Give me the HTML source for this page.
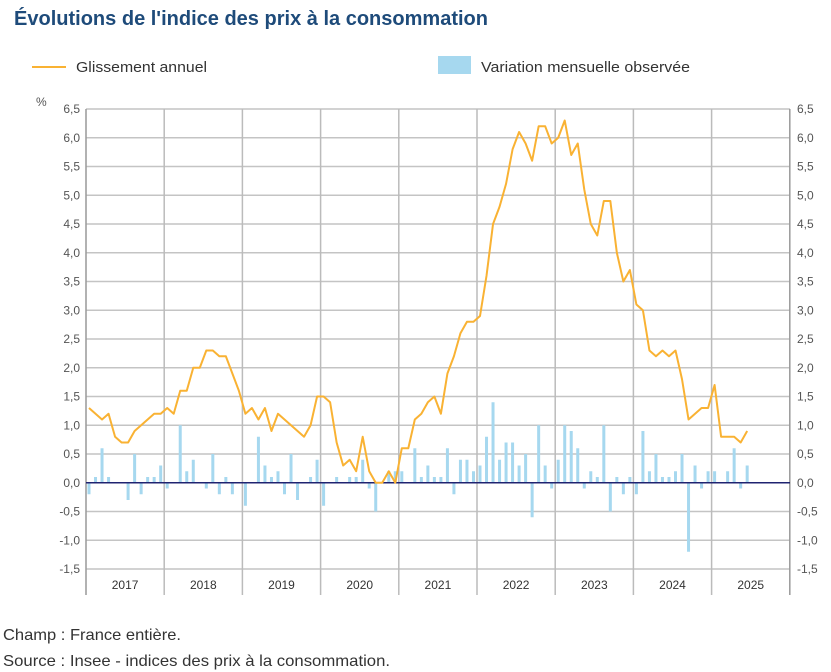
<!DOCTYPE html>
<html><head><meta charset="utf-8"><style>
body{margin:0;background:#fff;font-family:"Liberation Sans",sans-serif;}
svg{display:block}
</style></head><body>
<svg id="c" width="831" height="672" xmlns="http://www.w3.org/2000/svg">
<text x="14" y="25" font-size="20" font-weight="bold" fill="#1e4b7a" textLength="474" lengthAdjust="spacingAndGlyphs">Évolutions de l'indice des prix à la consommation</text>
<g>
<line x1="32" y1="67" x2="66" y2="67" stroke="#f9b233" stroke-width="2"/>
<text x="76" y="72" font-size="15" fill="#333" textLength="131" lengthAdjust="spacingAndGlyphs">Glissement annuel</text>
<rect x="438" y="56" width="33" height="18" fill="#a6d8ef"/>
<text x="481" y="72" font-size="15" fill="#333" textLength="209" lengthAdjust="spacingAndGlyphs">Variation mensuelle observée</text>
</g>
<text x="36" y="106" font-size="12" fill="#555">%</text>
<g id="grid"></g><g id="bars"></g><g id="line"></g><g id="axes"></g>
<text x="3" y="640" font-size="16" fill="#333" textLength="178" lengthAdjust="spacingAndGlyphs">Champ : France entière.</text>
<text x="3" y="666" font-size="16" fill="#333" textLength="387" lengthAdjust="spacingAndGlyphs">Source : Insee - indices des prix à la consommation.</text>
</svg>
<script>
const years=["2017","2018","2019","2020","2021","2022","2023","2024","2025"];
const yTicks=[6.5,6,5.5,5,4.5,4,3.5,3,2.5,2,1.5,1,0.5,0,-0.5,-1,-1.5];
const annual=[1.3,1.2,1.1,1.2,0.8,0.7,0.7,0.9,1.0,1.1,1.2,1.2,
1.3,1.2,1.6,1.6,2.0,2.0,2.3,2.3,2.2,2.2,1.9,1.6,
1.2,1.3,1.1,1.3,0.9,1.2,1.1,1.0,0.9,0.8,1.0,1.5,
1.5,1.4,0.7,0.3,0.4,0.2,0.8,0.2,0.0,0.0,0.2,0.0,
0.6,0.6,1.1,1.2,1.4,1.5,1.2,1.9,2.2,2.6,2.8,2.8,
2.9,3.6,4.5,4.8,5.2,5.8,6.1,5.9,5.6,6.2,6.2,5.9,
6.0,6.3,5.7,5.9,5.1,4.5,4.3,4.9,4.9,4.0,3.5,3.7,
3.1,3.0,2.3,2.2,2.3,2.2,2.3,1.8,1.1,1.2,1.3,1.3,
1.7,0.8,0.8,0.8,0.7,0.9];
const monthly=[-0.2,0.1,0.6,0.1,0,0,-0.3,0.5,-0.2,0.1,0.1,0.3,
-0.1,0,1.0,0.2,0.4,0,-0.1,0.5,-0.2,0.1,-0.2,0,
-0.4,0,0.8,0.3,0.1,0.2,-0.2,0.5,-0.3,0,0.1,0.4,
-0.4,0,0.1,0,0.1,0.1,0.4,-0.1,-0.5,0,0.2,0.2,
0.2,0,0.6,0.1,0.3,0.1,0.1,0.6,-0.2,0.4,0.4,0.2,
0.3,0.8,1.4,0.4,0.7,0.7,0.3,0.5,-0.6,1.0,0.3,-0.1,
0.4,1.0,0.9,0.6,-0.1,0.2,0.1,1.0,-0.5,0.1,-0.2,0.1,
-0.2,0.9,0.2,0.5,0.1,0.1,0.2,0.5,-1.2,0.3,-0.1,0.2,
0.2,0.0,0.2,0.6,-0.1,0.3];
const NS="http://www.w3.org/2000/svg";
const X0=86,YW=78.2,Y0=109,PU=57.5;
const y=v=>Y0+(6.5-v)*PU;
const xm=i=>X0+3+i*YW/12;
function mk(t,a,p){const e=document.createElementNS(NS,t);for(const k in a)e.setAttribute(k,a[k]);p.appendChild(e);return e;}
const G=document.getElementById('grid'),B=document.getElementById('bars'),L=document.getElementById('line'),A=document.getElementById('axes');
yTicks.forEach(v=>{
 const l=mk('line',{x1:X0,x2:790,y1:y(v),y2:y(v),stroke:'#c4c4c4','stroke-width':1.5},G);
 
 
 const lab=(Number.isInteger(v)?v+',0':String(v)).replace('.',',');
 const t1=mk('text',{x:80,y:y(v)+4,'font-size':12,fill:'#555','text-anchor':'end'},A);t1.textContent=lab;
 
 
 const t2=mk('text',{x:797,y:y(v)+4,'font-size':12,fill:'#555'},A);t2.textContent=lab;
 
 
});
for(let k=0;k<=years.length;k++){
 const l=mk('line',{x1:X0+k*YW,x2:X0+k*YW,y1:Y0,y2:595,stroke:(k==0||k==years.length)?'#999':'#bbb','stroke-width':1.5},G);
 
 
}
years.forEach((yr,k)=>{
 const t=mk('text',{x:X0+k*YW+YW/2,y:589,'font-size':12,fill:'#333','text-anchor':'middle'},A);t.textContent=yr;
 
 
});
monthly.forEach((v,i)=>{
 const r=mk('rect',{x:xm(i)-1.5,width:3,y:Math.min(y(v),y(0)),height:Math.abs(y(v)-y(0)),fill:'#a6d8ef'},B);
 
 
});
const z=mk('line',{x1:X0,x2:790,y1:y(0),y2:y(0),stroke:'#1f2370','stroke-width':1.5},B);


const p=mk('polyline',{points:annual.map((v,i)=>xm(i)+','+y(v)).join(' '),fill:'none',stroke:'#f9b233','stroke-width':2,'stroke-linejoin':'round'},L);


</script>
</body></html>
